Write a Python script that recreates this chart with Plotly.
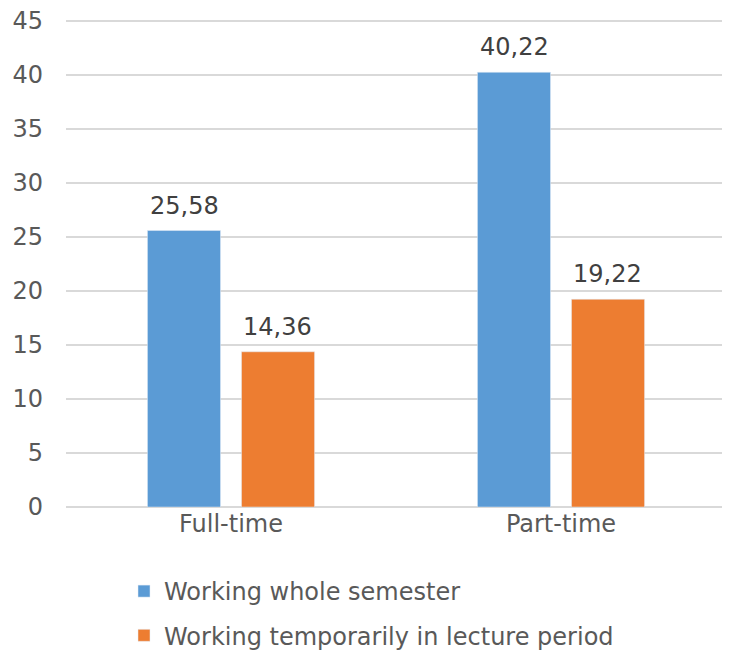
import plotly.graph_objects as go

categories = ["Full-time", "Part-time"]
whole_semester = [25.58, 40.22]
temporarily = [14.36, 19.22]
series_names = ["Working whole semester", "Working temporarily in lecture period"]
y_ticks = [0, 5, 10, 15, 20, 25, 30, 35, 40, 45]

def fmt(v):
    return f"{v:.2f}".replace(".", ",")

fig = go.Figure()
fig.add_trace(go.Bar(
    x=categories, y=whole_semester, name=series_names[0],
    marker=dict(color="#5B9BD5"), legendgroup="a",
))
fig.add_trace(go.Bar(
    x=categories, y=temporarily, name=series_names[1],
    marker=dict(color="#ED7D31"), legendgroup="b",
))

for vals, shift in ((whole_semester, -46.5), (temporarily, 46.5)):
    for c, v in zip(categories, vals):
        fig.add_annotation(x=c, y=v, text=fmt(v), showarrow=False,
                           xshift=shift, yshift=9, yanchor="bottom",
                           font=dict(color="#404040", size=24, family="DejaVu Sans"))

W, H = 722, 648
fig.update_layout(
    width=W, height=H,
    margin=dict(l=58, r=4, t=10.5, b=149, autoexpand=False),
    paper_bgcolor="white", plot_bgcolor="white",
    font=dict(family="DejaVu Sans", size=24, color="#595959"),
    barmode="group", bargap=0.43, bargroupgap=0.223,
    showlegend=True,
    legend=dict(orientation="v", xref="container", yref="container",
                x=116 / W, y=1 - 561 / H, xanchor="left", yanchor="top",
                tracegroupgap=10, font=dict(size=24, color="#595959")),
    xaxis=dict(showline=False, showgrid=False, ticks="", tickfont=dict(size=24),
               automargin=False),
    yaxis=dict(range=[0, 45.15], tickmode="array", tickvals=y_ticks,
               ticktext=[str(t) for t in y_ticks],
               showgrid=True, gridcolor="#D9D9D9", gridwidth=2,
               zeroline=True, zerolinecolor="#D9D9D9", zerolinewidth=2,
               showline=False, ticks="", ticklabelstandoff=22, tickfont=dict(size=24),
               automargin=False, ticklabeloverflow="allow"),
)

fig.write_html("out.html")
